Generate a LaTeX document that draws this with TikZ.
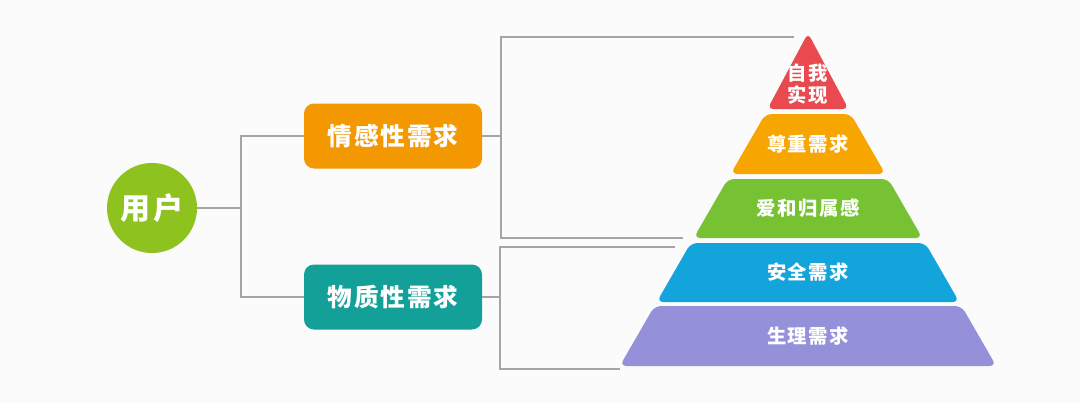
\documentclass[tikz,border=0pt]{standalone}
\usepackage{fontspec}
\newfontfamily\cjk{Noto Sans CJK SC}[LetterSpace=8]
\usetikzlibrary{positioning}

\definecolor{bgcol}{RGB}{251,251,251}
\definecolor{linkcol}{RGB}{165,165,165}
\definecolor{usercol}{RGB}{141,194,31}
\definecolor{emocol}{RGB}{243,152,0}
\definecolor{matcol}{RGB}{19,160,152}
\definecolor{selfcol}{RGB}{232,74,79}
\definecolor{esteemcol}{RGB}{247,165,0}
\definecolor{belongcol}{RGB}{119,194,50}
\definecolor{safecol}{RGB}{19,164,220}
\definecolor{bodycol}{RGB}{149,144,218}

\tikzset{
  link/.style={draw=linkcol, line width=0.9pt},
  needbox/.style={rounded corners=7.5pt, minimum width=133.5pt, minimum height=48.75pt,
    text=white, font=\cjk\bfseries\fontsize{18.5}{20}\selectfont},
  layertext/.style={text=white, align=center, font=\cjk\bfseries\fontsize{14.5}{17}\selectfont}
}

\begin{document}
\begin{tikzpicture}[x=0.75pt, y=-0.75pt]
        \fill[bgcol] (0,0) rectangle (1080,403);
        \useasboundingbox (0,0) rectangle (1080,403);

        % left side: user and the two kinds of needs
        \node[circle, fill=usercol, minimum size=67.5pt, inner sep=0pt, text=white,
              font=\cjk\bfseries\fontsize{22.5}{24}\selectfont] (user) at (152, 208) {用户};
        \node[needbox, fill=emocol] (emo) at (393, 136) {情感性需求};
        \node[needbox, fill=matcol] (mat) at (393, 297) {物质性需求};

        % pyramid, apex line at y=40, sides at 60 degrees
        \fill[selfcol, rounded corners=4.5pt] (808, 33) -- (767.5, 109) -- (848.5, 109) -- cycle;
        \node[layertext] (lv1) at (808, 84) {自我\\实现};
        \foreach \t/\b/\col/\txt/\n in {114/174/esteemcol/尊重需求/2, 179/238/belongcol/爱和归属感/3,
                                        243/302/safecol/安全需求/4, 306/366/bodycol/生理需求/5}{
          \fill[\col, rounded corners=5pt] ({808-(\t-40)*0.5774}, \t) -- ({808+(\t-40)*0.5774}, \t)
            -- ({808+(\b-40)*0.5774}, \b) -- ({808-(\b-40)*0.5774}, \b) -- cycle;
          \node[layertext] (lv\n) at (808, {(\t+\b)/2}) {\txt};
        }

        % free ends of the brackets
        \coordinate (usrj) at (241, 208);
        \coordinate (emoj) at (501, 136);
        \coordinate (matj) at (500, 297);
        \coordinate (selfL) at (794, 37);
        \coordinate (belongL) at (683, 238);
        \coordinate (safeL) at (675, 247);
        \coordinate (bodyL) at (620, 369);

        \draw[link] (user) -- (usrj);
        \draw[link] (emo.west) -| (usrj) |- (mat.west);
        \draw[link] (emo) -- (emoj);
        \draw[link] (selfL) -| (emoj) |- (belongL);
        \draw[link] (mat) -- (matj);
        \draw[link] (safeL) -| (matj) |- (bodyL);
\end{tikzpicture}
\end{document}
